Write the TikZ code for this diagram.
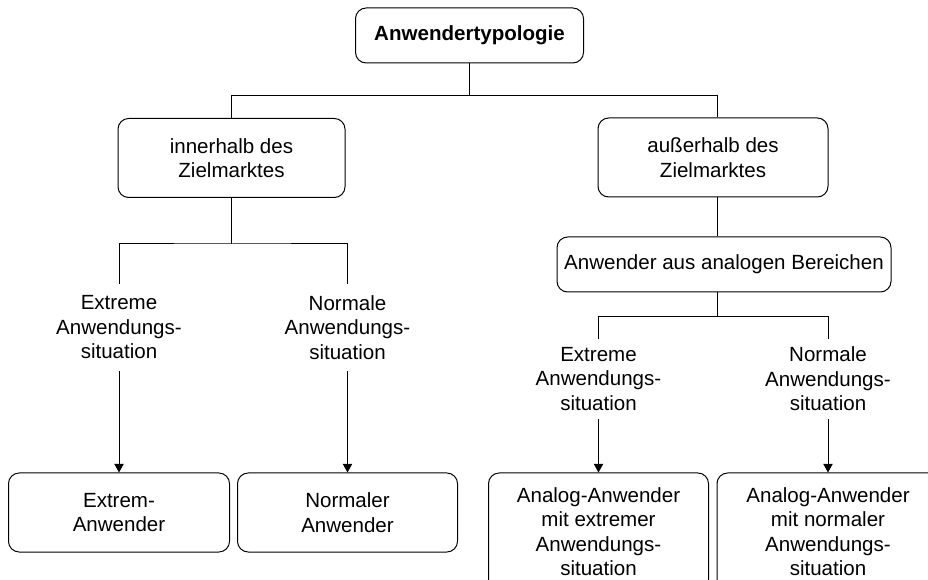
\documentclass[tikz,border=0pt]{standalone}
\usepackage{fontspec}
\setmainfont{Liberation Sans}
\usetikzlibrary{arrows.meta}
\begin{document}
\begin{tikzpicture}[x=0.75pt,y=-0.75pt,
  txt/.style={font=\fontsize{15.4}{18.4}\selectfont},
  box/.style={txt, draw, rounded corners=8pt, line width=0.75pt, align=center, inner sep=0pt},
  lbl/.style={txt, align=center, inner sep=0pt},
  conn/.style={line width=0.75pt},
  arr/.style={conn, -{Triangle[length=6.5pt,width=7pt]}}]
\useasboundingbox (0,0) rectangle (928,580);
\clip (0,0) rectangle (928,580);
\fill[white] (0,0) rectangle (928,580);
% boxes
\node[box, minimum width=171pt, minimum height=41.25pt, font=\fontsize{15.4}{18.4}\selectfont\bfseries] (top) at (469.5,35.5) {Anwendertypologie};
\node[box, minimum width=170.25pt, minimum height=59.25pt] (inner) at (231.5,158) {innerhalb des\\Zielmarktes};
\node[box, minimum width=172.5pt, minimum height=59.25pt] (outer) at (713,157.5) {au\ss erhalb des\\Zielmarktes};
\node[box, minimum width=250.5pt, minimum height=41.25pt] (analog) at (724,264.5) {Anwender aus analogen Bereichen};
% labels
\node[lbl, minimum height=65.25pt] (E1) at (119,327.5) {Extreme\\Anwendungs-\\situation};
\node[lbl, minimum height=65.25pt] (N1) at (347.5,327.5) {Normale\\Anwendungs-\\situation};
\node[lbl, minimum height=60pt] (E2) at (598.5,379) {Extreme\\Anwendungs-\\situation};
\node[lbl, minimum height=60pt] (N2) at (828,379) {Normale\\Anwendungs-\\situation};
% bottom boxes
\node[box, minimum width=165.75pt, minimum height=59.25pt] (B1) at (119,512.5) {Extrem-\\Anwender};
\node[box, minimum width=165pt, minimum height=59.25pt] (B2) at (347.5,512.5) {Normaler\\Anwender};
\node[box, minimum width=165pt, minimum height=87.75pt] (B3) at (598.5,531.5) {Analog-Anwender\\mit extremer\\Anwendungs-\\situation};
\node[box, minimum width=166.5pt, minimum height=87.75pt] (B4) at (828,531.5) {Analog-Anwender\\mit normaler\\Anwendungs-\\situation};
% connectors
\draw[conn] (top.south) -- ++(0,32) coordinate (j1);
\draw[conn] (inner.north) |- (j1) -| ([xshift=3pt]outer.north);
\draw[conn] (inner.south) -- ++(0,46) coordinate (j2);
\draw[conn] (E1.north) |- (j2) -| (N1.north);
\draw[arr] (E1.south) -- (B1.north);
\draw[arr] (N1.south) -- (B2.north);
\draw[conn] ([xshift=3pt]outer.south) -- ([xshift=3pt]outer.south |- analog.north);
\draw[conn] ([xshift=3pt]outer.south |- analog.south) -- ++(0,24) coordinate (j3);
\draw[conn] (E2.north) |- (j3) -| (N2.north);
\draw[arr] (E2.south) -- (B3.north);
\draw[arr] (N2.south) -- (B4.north);
\end{tikzpicture}
\end{document}
